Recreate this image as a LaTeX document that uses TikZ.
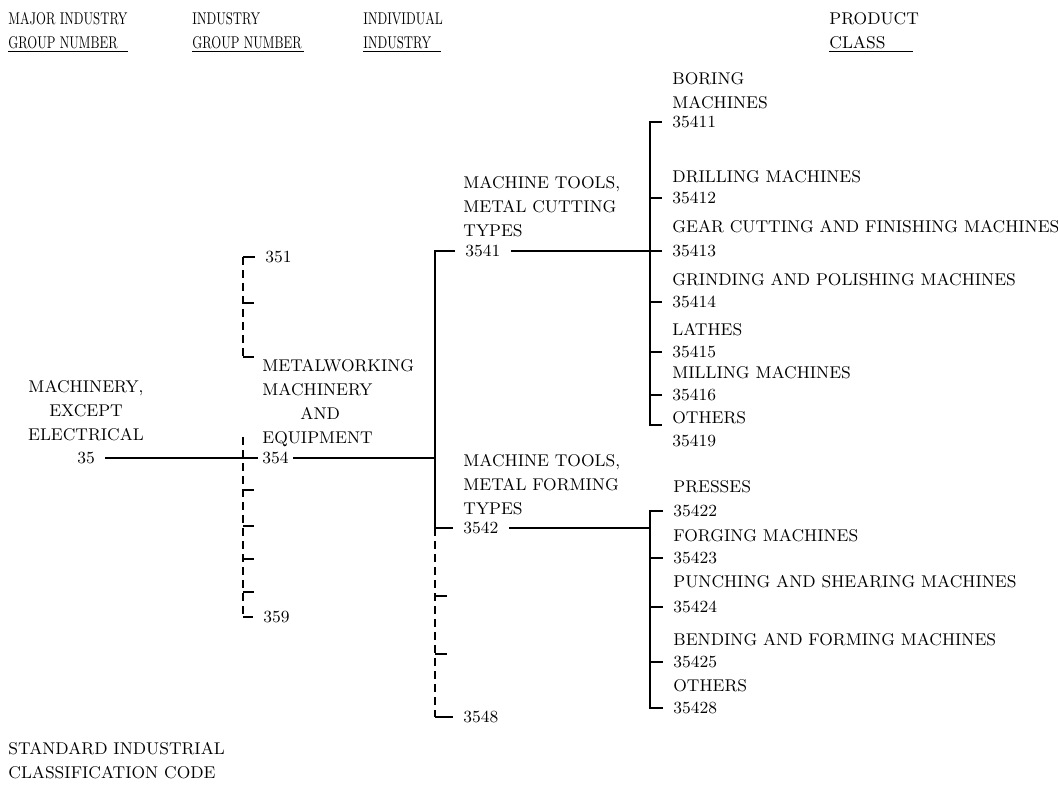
\documentclass[tikz,border=0pt]{standalone}
\newcommand{\narrow}[1]{\scalebox{0.73}[1]{#1}}
\begin{document}
\begin{tikzpicture}[x=0.5pt,y=-0.5pt,
  txt/.style={anchor=west, inner sep=0pt, font=\fontsize{8.5}{12}\selectfont},
  blk/.style={txt, anchor=north west, align=left},
  num/.style={txt, inner xsep=5pt},
  solidln/.style={line width=1.4pt},
  dashln/.style={line width=1.4pt, dash pattern=on 4pt off 2.5pt}]
\useasboundingbox (0,0) rectangle (1058,784);
\node[blk] (h1) at (8,12) {\narrow{MAJOR INDUSTRY}\\\underline{\narrow{GROUP NUMBER}\hspace{5pt}}};
\node[blk] (h2) at (192,12) {\narrow{INDUSTRY}\\\underline{\narrow{GROUP NUMBER}\hspace{1pt}}};
\node[blk] (h3) at (363,12) {\narrow{INDIVIDUAL}\\\underline{\narrow{INDUSTRY}\hspace{5pt}}};
\node[blk] (h4) at (829,12) {PRODUCT\\\underline{CLASS\hspace{14pt}}};
\node[blk, anchor=north, align=center] (mach) at (86,380) {MACHINERY,\\EXCEPT\\ELECTRICAL};
\node[num, anchor=center] (n35) at (86,458) {35};
\node[txt, inner xsep=2pt] (n354) at (258,458) {354};
\node[num] (n351) at (255,257) {351};
\node[num] (n359) at (253,617) {359};
\node[blk] (metal) at (262,359) {METALWORKING\\MACHINERY\\\hspace*{19pt}AND\\EQUIPMENT};
\node[blk] (cut) at (463,176) {MACHINE TOOLS,\\METAL CUTTING\\TYPES};
\node[num] (n3541) at (455,251) {3541};
\node[blk] (form) at (463,454) {MACHINE TOOLS,\\METAL FORMING\\TYPES};
\node[num] (n3542) at (453,528) {3542};
\node[num] (n3548) at (453,717) {3548};
\node[blk] (boring) at (672,72) {BORING\\MACHINES};
\node[num] (n35411) at (662,122) {35411};
\node[txt] (drill) at (672,177) {DRILLING MACHINES};
\node[num] (n35412) at (662,198) {35412};
\node[txt] (gear) at (672,227) {GEAR CUTTING AND FINISHING MACHINES};
\node[num] (n35413) at (662,251) {35413};
\node[txt] (grind) at (672,280) {GRINDING AND POLISHING MACHINES};
\node[num] (n35414) at (662,302) {35414};
\node[txt] (lathe) at (672,330) {LATHES};
\node[num] (n35415) at (662,352) {35415};
\node[txt] (mill) at (672,373) {MILLING MACHINES};
\node[num] (n35416) at (662,395) {35416};
\node[txt] (other1) at (672,418) {OTHERS};
\node[num] (n35419) at (662,441) {35419};
\node[txt] (press) at (673,487) {PRESSES};
\node[num] (n35422) at (663,511) {35422};
\node[txt] (forge) at (673,536) {FORGING MACHINES};
\node[num] (n35423) at (663,558) {35423};
\node[txt] (punch) at (673,582) {PUNCHING AND SHEARING MACHINES};
\node[num] (n35424) at (663,607) {35424};
\node[txt] (bend) at (673,640) {BENDING AND FORMING MACHINES};
\node[num] (n35425) at (663,662) {35425};
\node[txt] (other2) at (673,686) {OTHERS};
\node[num] (n35428) at (663,708) {35428};
\node[blk] (sic) at (8,742) {STANDARD INDUSTRIAL\\CLASSIFICATION CODE};
\coordinate (g1) at (243,257);
\coordinate (g2) at (243,357);
\coordinate (g3) at (243,437);
\coordinate (g4) at (243,617);
\coordinate (mtop) at (435,251);
\coordinate (mbot) at (435,528);
\coordinate (mend) at (435,717);
\coordinate (pbot) at (650,425);
\coordinate (qx) at (650,0);
\draw[solidln] (n35) -- (n354);
\draw[solidln] (n351.west) -- (g1);
\draw[dashln] (g1) -- (g2);
\draw[dashln] (g3) -- (g4);
\draw[solidln] (g4) -- (n359.west);
\foreach \y in {303,357,490,526,559,592}
  \draw[solidln] (243,\y) -- ++(11,0);
\draw[solidln] (n354) -- (n354 -| mtop);
\draw[solidln] (n3541.west) -| (mbot) -- (n3542.west);
\draw[dashln] (mbot) -- (mend);
\draw[solidln] (mend) -- (n3548.west);
\foreach \y in {596,654}
  \draw[solidln] (435,\y) -- ++(12,0);
\draw[solidln] (n3541) -- (n3541 -| pbot);
\draw[solidln] (n35411.west) -| (pbot) -- ++(12,0);
\foreach \n in {35412,35413,35414,35415,35416}
  \draw[solidln] (n\n.west) -- (n\n.west -| pbot);
\draw[solidln] (n3542) -- (n3542 -| qx);
\draw[solidln] (n35422.west) -| (qx |- n35428.west) -- (n35428.west);
\foreach \n in {35423,35424,35425}
  \draw[solidln] (n\n.west) -- (qx |- n\n.west);
\end{tikzpicture}
\end{document}
